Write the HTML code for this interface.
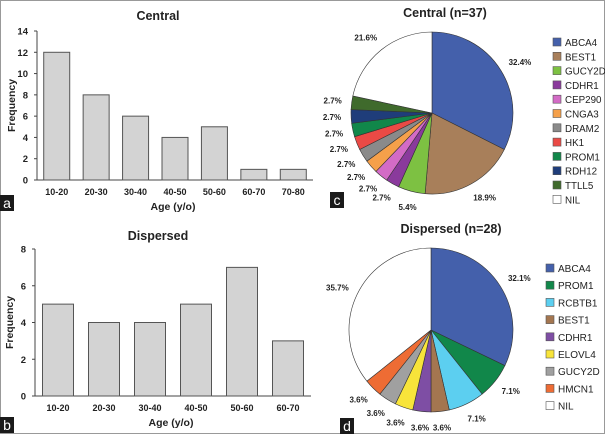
<!DOCTYPE html>
<html><head><meta charset="utf-8">
<style>
html,body{margin:0;padding:0;background:#fff}
body{width:605px;height:434px;overflow:hidden;font-family:"Liberation Sans",sans-serif}
svg text{font-family:"Liberation Sans",sans-serif}
</style></head>
<body>
<svg id="fig" width="605" height="434" viewBox="0 0 605 434" xmlns="http://www.w3.org/2000/svg">
<rect x="0.5" y="0.5" width="604" height="433" fill="#fff" stroke="#999" stroke-width="1"/>
<g id="ga"></g>
<g id="gb"></g>
<g id="gc"></g>
<g id="gd"></g>
</svg>
<script>
const NS="http://www.w3.org/2000/svg";
const ageCatsA=["10-20","20-30","30-40","40-50","50-60","60-70","70-80"];
const ageValsA=[12,8,6,4,5,1,1];
const yTicksA=[0,2,4,6,8,10,12,14];
const ageCatsB=["10-20","20-30","30-40","40-50","50-60","60-70"];
const ageValsB=[5,4,4,5,7,3];
const yTicksB=[0,2,4,6,8];
const genesC=["ABCA4","BEST1","GUCY2D","CDHR1","CEP290","CNGA3","DRAM2","HK1","PROM1","RDH12","TTLL5","NIL"];
const countsC=[12,7,2,1,1,1,1,1,1,1,1,8];
const colorsC=["#4460ab","#a87f5a","#7dc142","#8a3a9c","#d36bc6","#f5a04a","#8a8a8a","#ea4a45","#11874a","#1f3d7a","#3f6a2c","#ffffff"];
const genesD=["ABCA4","PROM1","RCBTB1","BEST1","CDHR1","ELOVL4","GUCY2D","HMCN1","NIL"];
const countsD=[9,2,2,1,1,1,1,1,10];
const colorsD=["#4460ab","#11874a","#5ccff0","#a47650","#7e4ea4","#f8e43a","#a0a0a0","#ee6c34","#ffffff"];

function el(tag,attrs,parent,txt){const e=document.createElementNS(NS,tag);for(const k in attrs)e.setAttribute(k,attrs[k]);if(txt!==undefined)e.textContent=txt;parent.appendChild(e);return e;}

function bar(g,cfg){
  const {cats,vals,ticks,x0,x1,y0,y1,ymax,bw,title,tx,ty,letter,ly}=cfg;
  const step=(x1-x0)/cats.length;
  const Y=v=>y0-(v/ymax)*(y0-y1);
  const t=el('text',{x:tx,y:ty,'text-anchor':'middle','font-size':12.5,'font-weight':'bold',fill:'#222'},g,title);
  
  
  const ax=el('line',{x1:x0,y1:y1,x2:x0,y2:y0,stroke:'#444','stroke-width':1},g);
  
  
  const xa=el('line',{x1:x0,y1:y0,x2:x1,y2:y0,stroke:'#444','stroke-width':1},g);
  
  
  ticks.forEach(v=>{
    const tk=el('line',{x1:x0-3,x2:x0,y1:Y(v),y2:Y(v),stroke:'#444'},g);
    
    
    const tl=el('text',{x:x0-9,y:Y(v)+3.5,'text-anchor':'end','font-size':9.5,'font-weight':'bold',fill:'#222'},g,v);
    
    
  });
  cats.forEach((c,i)=>{
    const cx=x0+step*(i+0.5);
    const r=el('rect',{x:cx-bw/2,y:Y(vals[i]),width:bw,height:y0-Y(vals[i]),fill:'#d3d3d3',stroke:'#555','stroke-width':1},g);
    
    
    const l=el('text',{x:cx,y:y0+15,'text-anchor':'middle','font-size':9,'font-weight':'bold',fill:'#222'},g,c);
    
    
  });
  const xt=el('text',{x:(x0+x1)/2-2,y:y0+30,'text-anchor':'middle','font-size':10.5,'font-weight':'bold',fill:'#222'},g,'Age (y/o)');
  
  
  const yt=el('text',{x:0,y:0,transform:`translate(${x0-22},${(y0+y1)/2}) rotate(-90)`,'text-anchor':'middle','font-size':10.5,'font-weight':'bold',fill:'#222'},g,'Frequency');
  
  
  panelLetter(g,0,ly,letter);
}
function panelLetter(g,x,y,letter){
  const b=el('rect',{x:x,y:y,width:14,height:16,fill:'#1a1a1a'},g);
  
  
  const t=el('text',{x:x+7,y:y+13,'text-anchor':'middle','font-size':14,fill:'#fff'},g,letter);
  
  
}
function pie(g,cfg){
  const {names,counts,colors,cx,cy,r,title,tx,ty,lx,ly0,lstep,letter,bx,by,fs}=cfg;
  const total=counts.reduce((a,b)=>a+b,0);
  const t=el('text',{x:tx,y:ty,'text-anchor':'middle','font-size':12.5,'font-weight':'bold',fill:'#222'},g,title);
  
  
  let a=0;
  counts.forEach((c,i)=>{
    const a0=a, a1=a+c/total*2*Math.PI; a=a1;
    const P=(ang,rr)=>[cx+rr*Math.sin(ang),cy-rr*Math.cos(ang)];
    const [x0,y0]=P(a0,r),[x1,y1]=P(a1,r);
    const large=(a1-a0)>Math.PI?1:0;
    const p=el('path',{d:`M${cx},${cy} L${x0},${y0} A${r},${r} 0 ${large} 1 ${x1},${y1} Z`,fill:colors[i],stroke:'#333','stroke-width':0.6},g);
    
    
    const mid=(a0+a1)/2;
    const [lx1,ly1]=P(mid,r+16);
    const s=Math.sin(mid);
    const anchor=s>0.3?'start':(s<-0.3?'end':'middle');
    const pct=(c/total*100).toFixed(1)+'%';
    const lt=el('text',{x:lx1+(anchor==='start'?-6:anchor==='end'?6:0),y:ly1+3,'text-anchor':anchor,'font-size':8,'font-weight':'bold',fill:'#222'},g,pct);
    
    
    const ly=ly0+i*lstep;
    const sw=el('rect',{x:lx,y:ly-4,width:8,height:8,fill:colors[i],stroke:'#555','stroke-width':0.6},g);
    
    
    const tt=el('text',{x:lx+12,y:ly+4,'font-size':fs,fill:'#222'},g,names[i]);
    
    
  });
  panelLetter(g,bx,by,letter);
}
bar(document.getElementById('ga'),{cats:ageCatsA,vals:ageValsA,ticks:yTicksA,x0:37,x1:313,y0:180,y1:31,ymax:14,bw:26,title:'Central',tx:158,ty:20,letter:'a',ly:195});
bar(document.getElementById('gb'),{cats:ageCatsB,vals:ageValsB,ticks:yTicksB,x0:35,x1:311,y0:396,y1:249,ymax:8,bw:31,title:'Dispersed',tx:158,ty:240,letter:'b',ly:417});
pie(document.getElementById('gc'),{names:genesC,counts:countsC,colors:colorsC,cx:432,cy:113,r:81,title:'Central (n=37)',tx:445,ty:17,lx:553,ly0:42,lstep:14.3,letter:'c',bx:330,by:192,fs:9.8});
pie(document.getElementById('gd'),{names:genesD,counts:countsD,colors:colorsD,cx:431,cy:330,r:82,title:'Dispersed (n=28)',tx:451,ty:233,lx:546,ly0:268,lstep:17.2,letter:'d',bx:340,by:418,fs:10});
</script>
</body></html>
